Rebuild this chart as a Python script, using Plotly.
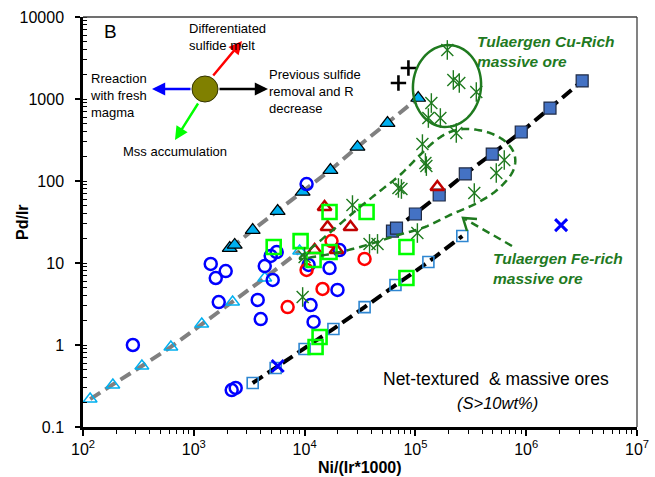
import plotly.graph_objects as go
import numpy as np

# ---------------- data ----------------
tri_filled_x = [2110, 2340, 3400, 5710, 9600, 17100, 30000, 56000, 106000]
tri_filled_y = [15.2, 16.6, 25.2, 43, 73.5, 136, 260, 509, 1028]

tri_open_x = [116, 186, 340, 621, 1180, 2240, 4370, 9020]
tri_open_y = [0.219, 0.325, 0.555, 0.946, 1.80, 3.34, 6.56, 14.0]

sq_filled_x = [62100, 67500, 100000, 164000, 282000, 494000, 902000, 1640000, 3200000]
sq_filled_y = [24.5, 26.7, 39.6, 67.5, 122, 213, 396, 776, 1660]

sq_open_x = [3400, 5480, 10000, 18200, 34800, 66100, 131000, 265000]
sq_open_y = [0.344, 0.525, 0.894, 1.57, 2.90, 5.39, 10.3, 21.3]

blue_circ_x = [282, 1422, 1941, 1578, 1679, 2198, 2388, 3773, 4018, 4369,
               5155, 4944, 5600, 10420, 11320, 12050, 19800, 16790, 20650, 10870]
blue_circ_y = [1.0, 9.73, 7.98, 6.56, 3.34, 0.282, 0.299, 3.54, 2.07, 9.18,
               6.21, 12.2, 13.6, 91.9, 3.07, 1.91, 4.69, 8.68, 14.4, 9.46]

red_circ_x = [7030, 10420, 14520, 17500, 34750]
red_circ_y = [2.90, 8.22, 4.82, 18.5, 11.2]

red_tri_x = [15140, 16110, 25940, 12310, 19400, 157800]
red_tri_y = [48.2, 27.5, 27.5, 14.4, 14.4, 84.5]

green_sq_x = [5260, 9200, 16790, 36250, 16790, 12050, 83000, 83000, 13650, 12560]
green_sq_y = [15.7, 18.5, 41.9, 41.9, 13.6, 10.9, 15.7, 6.56, 1.25, 0.946]

cu_rich_x = [194100, 219900, 249000, 354500, 139300, 130900, 168000]
cu_rich_y = [3963, 1706, 1567, 1216, 893, 586, 586]

fe_rich_x = [233900, 115700, 123100, 125600, 70300, 74800, 634000, 537000,
             340000, 27040, 104200, 38540, 45500, 10000, 9600]
fe_rich_y = [385, 282, 166, 152, 82.2, 79.8, 180, 125,
             71.5, 50.9, 23.2, 17.1, 17.1, 11.8, 3.85]

plus_x = [86500, 70300]
plus_y = [2388, 1567]

xmark_x = [2065000, 5720]
xmark_y = [29.0, 0.555]

y_tick_vals = [0.1, 1, 10, 100, 1000, 10000]
y_tick_text = ["0.1", "1", "10", "100", "1000", "10000"]
x_tick_vals = [1e2, 1e3, 1e4, 1e5, 1e6, 1e7]
x_tick_text = ["10<sup>2</sup>", "10<sup>3</sup>", "10<sup>4</sup>",
               "10<sup>5</sup>", "10<sup>6</sup>", "10<sup>7</sup>"]

# ---------------- layout helpers (pixel -> paper) ----------------
W, H = 655, 477
L, R, T, B = 83, 637, 17, 427


def fx(p):
    return (p - L) / (R - L)


def fy(p):
    return (B - p) / (B - T)


def path_from(points, close=True):
    s = "M " + " L ".join(f"{fx(x):.5f},{fy(y):.5f}" for x, y in points)
    return s + (" Z" if close else "")


def catmull_closed(pts, n=12):
    pts = np.array(pts, dtype=float)
    m = len(pts)
    out = []
    for i in range(m):
        p0, p1, p2, p3 = pts[(i - 1) % m], pts[i], pts[(i + 1) % m], pts[(i + 2) % m]
        for t in np.linspace(0, 1, n, endpoint=False):
            t2, t3 = t * t, t * t * t
            pt = 0.5 * ((2 * p1) + (-p0 + p2) * t + (2 * p0 - 5 * p1 + 4 * p2 - p3) * t2
                        + (-p0 + 3 * p1 - 3 * p2 + p3) * t3)
            out.append(tuple(pt))
    return out


FONT = "Arial, 'Liberation Sans', sans-serif"
DKGREEN = "#1F7A1F"

fig = go.Figure()

# dashed trend lines
for xs, ys, c in [(tri_open_x, tri_open_y, "#808080"), (tri_filled_x, tri_filled_y, "#808080"),
                  (sq_open_x, sq_open_y, "black"), (sq_filled_x, sq_filled_y, "black")]:
    fig.add_trace(go.Scatter(x=xs, y=ys, mode="lines",
                             line=dict(color=c, width=4, dash="12px,6px"), hoverinfo="skip"))

# markers
fig.add_trace(go.Scatter(x=tri_open_x, y=tri_open_y, mode="markers",
                         marker=dict(symbol="triangle-up-open", size=12, color="#00B0F0",
                                     line=dict(width=1.5, color="#00B0F0"))))
fig.add_trace(go.Scatter(x=tri_filled_x, y=tri_filled_y, mode="markers",
                         marker=dict(symbol="triangle-up", size=13, color="#00B0F0",
                                     line=dict(width=1.2, color="black"))))
fig.add_trace(go.Scatter(x=sq_open_x, y=sq_open_y, mode="markers",
                         marker=dict(symbol="square-open", size=11, color="#2E86D1",
                                     line=dict(width=1.6, color="#2E86D1"))))
fig.add_trace(go.Scatter(x=sq_filled_x, y=sq_filled_y, mode="markers",
                         marker=dict(symbol="square", size=12, color="#4472C4",
                                     line=dict(width=1.2, color="#1F2A44"))))
fig.add_trace(go.Scatter(x=blue_circ_x, y=blue_circ_y, mode="markers",
                         marker=dict(symbol="circle-open", size=12, color="#0000FF",
                                     line=dict(width=2.5, color="#0000FF"))))
fig.add_trace(go.Scatter(x=red_circ_x, y=red_circ_y, mode="markers",
                         marker=dict(symbol="circle-open", size=12, color="#FF0000",
                                     line=dict(width=2.5, color="#FF0000"))))
fig.add_trace(go.Scatter(x=red_tri_x, y=red_tri_y, mode="markers",
                         marker=dict(symbol="triangle-up-open", size=12, color="#C00000",
                                     line=dict(width=2.5, color="#C00000"))))
fig.add_trace(go.Scatter(x=green_sq_x, y=green_sq_y, mode="markers",
                         marker=dict(symbol="square-open", size=14, color="#00FF00",
                                     line=dict(width=2.6, color="#00FF00"))))
for xs, ys in [(cu_rich_x, cu_rich_y), (fe_rich_x, fe_rich_y)]:
    fig.add_trace(go.Scatter(x=xs, y=ys, mode="markers",
                             marker=dict(symbol="x-thin-open", size=12, color=DKGREEN,
                                         line=dict(width=1.4, color=DKGREEN))))
    fig.add_trace(go.Scatter(x=xs, y=ys, mode="markers",
                             marker=dict(symbol="line-ns-open", size=14, color=DKGREEN,
                                         line=dict(width=1.4, color=DKGREEN))))
fig.add_trace(go.Scatter(x=plus_x, y=plus_y, mode="markers",
                         marker=dict(symbol="cross-thin-open", size=11, color="black",
                                     line=dict(width=2.6, color="black"))))
fig.add_trace(go.Scatter(x=xmark_x, y=xmark_y, mode="markers",
                         marker=dict(symbol="x-thin-open", size=12, color="#0000FF",
                                     line=dict(width=3, color="#0000FF"))))

# ---------------- shapes ----------------
shapes = []
shapes.append(dict(type="line", xref="paper", yref="paper", x0=0, x1=1, y0=1, y1=1,
                   line=dict(color="#404040", width=1.3)))
shapes.append(dict(type="line", xref="paper", yref="paper", x0=1, x1=1, y0=0, y1=1,
                   line=dict(color="#404040", width=1.3)))

# Cu-rich ellipse (solid)
cx, cy, rx, ry, phi = 447, 86, 34, 41, np.deg2rad(6)
tt = np.linspace(0, 2 * np.pi, 80)
ell = [(cx + rx * np.cos(t) * np.cos(phi) - ry * np.sin(t) * np.sin(phi),
        cy + rx * np.cos(t) * np.sin(phi) + ry * np.sin(t) * np.cos(phi)) for t in tt]
shapes.append(dict(type="path", xref="paper", yref="paper", path=path_from(ell),
                   line=dict(color=DKGREEN, width=2.5)))

# Fe-rich dashed balloon
balloon = [(300, 258), (320, 241), (340, 224), (360, 207), (380, 191), (400, 175),
           (420, 155), (435, 141), (450, 132), (468, 129), (490, 133), (507, 143),
           (515, 157), (512, 173), (497, 190), (477, 203), (450, 215), (425, 227),
           (395, 236), (367, 245), (340, 252), (313, 257)]
shapes.append(dict(type="path", xref="paper", yref="paper",
                   path=path_from(catmull_closed(balloon)),
                   line=dict(color=DKGREEN, width=2.5, dash="8px,5px")))

# Fe-rich pointer (dashed line + open chevron)
shapes.append(dict(type="line", xref="paper", yref="paper", x0=fx(512), y0=fy(246),
                   x1=fx(465), y1=fy(219), line=dict(color=DKGREEN, width=2.5, dash="8px,5px")))
shapes.append(dict(type="path", xref="paper", yref="paper",
                   path=path_from([(477, 219), (463, 218), (467, 231)], close=False),
                   line=dict(color=DKGREEN, width=2.5)))

# olive circle of the process diagram
shapes.append(dict(type="circle", xref="paper", yref="paper",
                   x0=fx(192), x1=fx(218), y0=fy(102), y1=fy(76),
                   fillcolor="#808000", line=dict(color="#333300", width=1)))

# ---------------- annotations ----------------
ann = []


def txt(text, x, y, size, xanchor="left", color="black", yanchor="middle", align="left"):
    ann.append(dict(text=text, x=fx(x), y=fy(y), xref="paper", yref="paper",
                    showarrow=False, xanchor=xanchor, yanchor=yanchor, align=align,
                    font=dict(family=FONT, size=size, color=color)))


def arrow(tail, head, color):
    ann.append(dict(text="", x=fx(head[0]), y=fy(head[1]), xref="paper", yref="paper",
                    ax=tail[0] - head[0], ay=tail[1] - head[1], axref="pixel", ayref="pixel",
                    showarrow=True, arrowhead=2, arrowsize=1.1, arrowwidth=2.4,
                    arrowcolor=color))


arrow((212, 77), (242, 41), "#FF0000")
arrow((192, 89), (152, 89), "#0000FF")
arrow((218, 89), (268, 89), "black")
arrow((199, 102), (175, 140), "#00FF00")

txt("B", 110, 31, 19, xanchor="center")
txt("Differentiated<br>sulfide melt", 187, 37, 13)
txt("Rreaction<br>with fresh<br>magma", 88, 96, 13)
txt("Previous sulfide<br>removal and R<br>decrease", 267, 91, 13)
txt("Mss accumulation", 121, 152, 13)
txt("<b><i>Tulaergen Cu-Rich<br>massive ore</i></b>", 475, 52, 15.5, color=DKGREEN)
txt("<b><i>Tulaergen Fe-rich<br>massive ore</i></b>", 491, 268, 15.5, color=DKGREEN)
txt("Net-textured  & massive ores", 496, 379, 17.5, xanchor="center")
txt("<i>(S&gt;10wt%)</i>", 497, 403, 16.5, xanchor="center")

# axis titles
ann.append(dict(text="<b>Ni/(Ir*1000)</b>", x=fx(360), y=fy(467), xref="paper", yref="paper",
                showarrow=False, xanchor="center", yanchor="middle",
                font=dict(family=FONT, size=16, color="black")))
ann.append(dict(text="<b>Pd/Ir</b>", x=fx(22), y=fy(222), xref="paper", yref="paper",
                showarrow=False, xanchor="center", yanchor="middle", textangle=-90,
                font=dict(family=FONT, size=16, color="black")))

fig.update_layout(
    width=W, height=H,
    margin=dict(l=L, r=W - R, t=T, b=H - B, pad=0, autoexpand=False),
    paper_bgcolor="white", plot_bgcolor="white",
    showlegend=False,
    shapes=shapes, annotations=ann,
    font=dict(family=FONT, size=16, color="black"),
)
fig.update_xaxes(type="log", range=[2, 7], tickmode="array",
                 tickvals=x_tick_vals, ticktext=x_tick_text, automargin=False,
                 showgrid=False, zeroline=False, showline=True, linecolor="black", linewidth=2.5,
                 ticks="outside", ticklen=6, tickwidth=1.5, tickcolor="black",
                 tickfont=dict(family=FONT, size=16, color="black"),
                 minor=dict(ticks="outside", ticklen=4, tickwidth=1, tickcolor="black",
                            dtick="D1", showgrid=False))
fig.update_yaxes(type="log", range=[-1, 4], tickmode="array",
                 tickvals=y_tick_vals, ticktext=y_tick_text, automargin=False,
                 showgrid=False, zeroline=False, showline=True, linecolor="black", linewidth=2.5,
                 ticks="outside", ticklen=5, tickwidth=1.5, tickcolor="black",
                 ticklabelstandoff=8,
                 tickfont=dict(family=FONT, size=16, color="black"),
                 minor=dict(ticks="inside", ticklen=4, tickwidth=1, tickcolor="black",
                            dtick="D1", showgrid=False))

fig.write_html("out.html", config={"displayModeBar": False},
               post_script="document.body.style.margin='0px';document.body.style.overflow='hidden';")
